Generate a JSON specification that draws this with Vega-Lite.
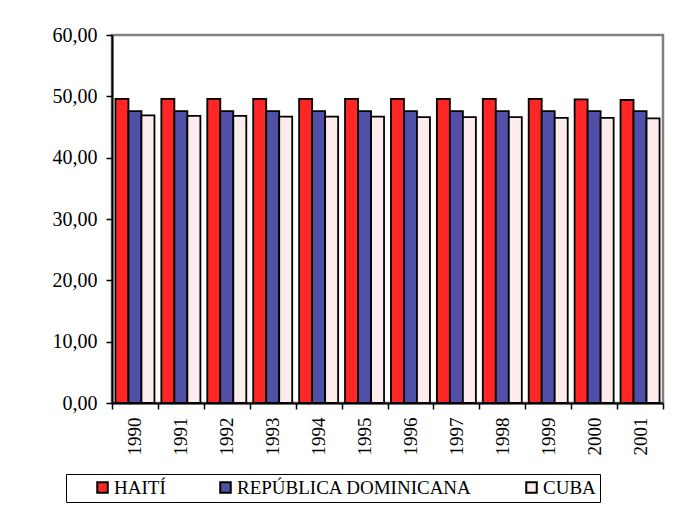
{
  "$schema": "https://vega.github.io/schema/vega-lite/v6.json",
  "autosize": {"type": "none"},
  "padding": {"left": 112, "top": 35, "right": 23, "bottom": 107},
  "width": 551,
  "height": 368,
  "background": "white",
  "data": {
    "values": [
      {"year": "1990", "country": "HAITÍ", "value": 49.6},
      {"year": "1990", "country": "REPÚBLICA DOMINICANA", "value": 47.6},
      {"year": "1990", "country": "CUBA", "value": 46.9},
      {"year": "1991", "country": "HAITÍ", "value": 49.6},
      {"year": "1991", "country": "REPÚBLICA DOMINICANA", "value": 47.6},
      {"year": "1991", "country": "CUBA", "value": 46.8},
      {"year": "1992", "country": "HAITÍ", "value": 49.6},
      {"year": "1992", "country": "REPÚBLICA DOMINICANA", "value": 47.6},
      {"year": "1992", "country": "CUBA", "value": 46.8},
      {"year": "1993", "country": "HAITÍ", "value": 49.6},
      {"year": "1993", "country": "REPÚBLICA DOMINICANA", "value": 47.6},
      {"year": "1993", "country": "CUBA", "value": 46.7},
      {"year": "1994", "country": "HAITÍ", "value": 49.6},
      {"year": "1994", "country": "REPÚBLICA DOMINICANA", "value": 47.6},
      {"year": "1994", "country": "CUBA", "value": 46.7},
      {"year": "1995", "country": "HAITÍ", "value": 49.6},
      {"year": "1995", "country": "REPÚBLICA DOMINICANA", "value": 47.6},
      {"year": "1995", "country": "CUBA", "value": 46.7},
      {"year": "1996", "country": "HAITÍ", "value": 49.6},
      {"year": "1996", "country": "REPÚBLICA DOMINICANA", "value": 47.6},
      {"year": "1996", "country": "CUBA", "value": 46.6},
      {"year": "1997", "country": "HAITÍ", "value": 49.6},
      {"year": "1997", "country": "REPÚBLICA DOMINICANA", "value": 47.6},
      {"year": "1997", "country": "CUBA", "value": 46.6},
      {"year": "1998", "country": "HAITÍ", "value": 49.6},
      {"year": "1998", "country": "REPÚBLICA DOMINICANA", "value": 47.6},
      {"year": "1998", "country": "CUBA", "value": 46.6},
      {"year": "1999", "country": "HAITÍ", "value": 49.6},
      {"year": "1999", "country": "REPÚBLICA DOMINICANA", "value": 47.6},
      {"year": "1999", "country": "CUBA", "value": 46.5},
      {"year": "2000", "country": "HAITÍ", "value": 49.5},
      {"year": "2000", "country": "REPÚBLICA DOMINICANA", "value": 47.6},
      {"year": "2000", "country": "CUBA", "value": 46.5},
      {"year": "2001", "country": "HAITÍ", "value": 49.4},
      {"year": "2001", "country": "REPÚBLICA DOMINICANA", "value": 47.6},
      {"year": "2001", "country": "CUBA", "value": 46.4}
    ]
  },
  "mark": {"type": "bar", "stroke": "black", "strokeWidth": 1.8},
  "encoding": {
    "x": {
      "field": "year",
      "type": "nominal",
      "scale": {"paddingInner": 0, "paddingOuter": 0},
      "axis": {
        "title": null,
        "labelAngle": 270,
        "labelFont": "Liberation Serif",
        "labelFontSize": 19,
        "labelColor": "black",
        "labelPadding": 8,
        "tickBand": "extent",
        "tickSize": 6,
        "tickColor": "black",
        "tickWidth": 1.5,
        "domainColor": "black",
        "domainWidth": 2
      }
    },
    "xOffset": {
      "field": "country",
      "sort": ["HAITÍ", "REPÚBLICA DOMINICANA", "CUBA"],
      "scale": {"paddingInner": 0, "paddingOuter": 0.265}
    },
    "y": {
      "field": "value",
      "type": "quantitative",
      "scale": {"domain": [0, 60], "nice": false},
      "axis": {
        "title": null,
        "values": [0, 10, 20, 30, 40, 50, 60],
        "grid": false,
        "labelExpr": "replace(format(datum.value, '.2f'), '.', ',')",
        "labelFont": "Liberation Serif",
        "labelFontSize": 20,
        "labelColor": "black",
        "labelPadding": 9,
        "tickSize": 6,
        "tickColor": "black",
        "tickWidth": 1.5,
        "domainColor": "black",
        "domainWidth": 2
      }
    },
    "fill": {
      "field": "country",
      "type": "nominal",
      "scale": {
        "domain": ["HAITÍ", "REPÚBLICA DOMINICANA", "CUBA"],
        "range": ["#ff2626", "#5050a8", "#fcecec"]
      },
      "legend": {
        "title": null,
        "orient": "none",
        "legendX": -46,
        "legendY": 439,
        "direction": "horizontal",
        "gridAlign": "none",
        "strokeColor": "black",
        "padding": 4,
        "symbolOffset": 23,
        "symbolType": "square",
        "symbolSize": 110,
        "symbolStrokeColor": "black",
        "symbolStrokeWidth": 2,
        "symbolOpacity": 1,
        "labelFont": "Liberation Serif",
        "labelFontSize": 19,
        "labelColor": "black",
        "labelLimit": 500,
        "labelOffset": 2,
        "columnPadding": 27,
        "labelExpr": "datum.label == 'CUBA' ? 'CUBA\u2003\u2002' : datum.label"
      }
    }
  },
  "config": {
    "font": "Liberation Serif",
    "view": {"stroke": "#808080", "strokeWidth": 2.5}
  }
}
